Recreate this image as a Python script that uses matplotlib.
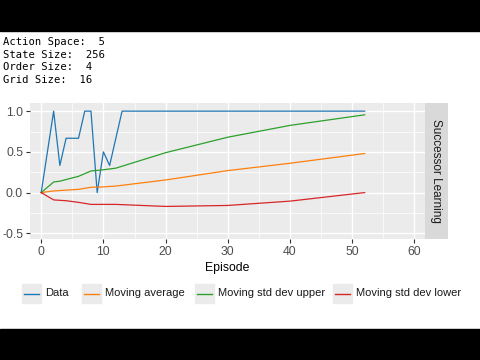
import matplotlib
matplotlib.use('Agg')
import matplotlib.pyplot as plt
from matplotlib.patches import Rectangle
from matplotlib.lines import Line2D

plt.rcParams['font.family'] = ['Liberation Sans', 'DejaVu Sans']

# header info
info_lines = ['Action Space:  5', 'State Size:  256', 'Order Size:  4', 'Grid Size:  16']

# series
data_x = [0, 1, 2, 3, 4, 5, 6, 7, 8, 9, 10, 11, 12, 13, 52]
data_y = [0, 0.5, 1.0, 0.333, 0.667, 0.667, 0.667, 1.0, 1.0, 0.0, 0.5, 0.333, 0.667, 1.0, 1.0]

avg_x = [0, 2, 6, 8, 10, 12, 20, 30, 40, 52]
avg_y = [0, 0.02, 0.04, 0.065, 0.07, 0.08, 0.155, 0.27, 0.36, 0.48]

up_x = [0, 2, 3, 6, 8, 10, 12, 20, 30, 40, 52]
up_y = [0, 0.13, 0.14, 0.2, 0.265, 0.28, 0.3, 0.49, 0.68, 0.825, 0.955]

low_x = [0, 2, 4, 6, 8, 12, 20, 30, 40, 52]
low_y = [0, -0.09, -0.1, -0.12, -0.145, -0.145, -0.17, -0.158, -0.105, 0.0]

labels = ['Data', 'Moving average', 'Moving std dev upper', 'Moving std dev lower']
colors = ['#1f77b4', '#ff7f0e', '#2ca02c', '#d62728']

fig = plt.figure(figsize=(4.8, 3.6), dpi=100)
fig.patch.set_facecolor('white')

# black bars top and bottom
fig.patches.append(Rectangle((0, 1 - 31/360), 1, 31/360, transform=fig.transFigure, color='black', zorder=0))
fig.patches.append(Rectangle((0, 0), 1, 31/360, transform=fig.transFigure, color='black', zorder=0))

for i, s in enumerate(info_lines):
    fig.text(3/480, 1 - (41.7 + i * 12.8)/360, s, family='DejaVu Sans Mono', fontsize=7.6,
             va='center', ha='left', color='black')

ax = fig.add_axes([30/480, 1 - 239/360, 395/480, 136/360])
ax.set_facecolor('#EBEBEB')
for sp in ax.spines.values():
    sp.set_visible(False)

series = [(data_x, data_y), (avg_x, avg_y), (up_x, up_y), (low_x, low_y)]
for (xs, ys), c in zip(series, colors):
    ax.plot(xs, ys, color=c, lw=0.9, zorder=3)

ax.set_xlim(-1.8, 61.7)
ax.set_ylim(-0.57, 1.10)
ax.set_xticks([0, 10, 20, 30, 40, 50, 60])
ax.set_yticks([-0.5, 0.0, 0.5, 1.0])
ax.set_yticklabels(['-0.5', '0.0', '0.5', '1.0'])
ax.set_xticks([5, 15, 25, 35, 45, 55], minor=True)
ax.set_yticks([-0.25, 0.25, 0.75], minor=True)
ax.grid(which='major', color='white', lw=1.0, zorder=1)
ax.grid(which='minor', color='white', lw=0.5, zorder=1)
ax.set_axisbelow(True)
ax.tick_params(which='major', length=3, width=0.8, color='#333333', labelcolor='#4D4D4D',
               labelsize=8.8, pad=2)
ax.tick_params(which='minor', length=0)
ax.set_xlabel('Episode', fontsize=8.8, color='black', labelpad=3)

# facet strip on the right
sax = fig.add_axes([425/480, 1 - 239/360, 23/480, 136/360])
sax.set_facecolor('#D9D9D9')
sax.set_xticks([])
sax.set_yticks([])
for sp in sax.spines.values():
    sp.set_visible(False)
sax.text(0.5, 0.5, 'Successor Learning', rotation=-90, ha='center', va='center',
         fontsize=8.5, color='#1A1A1A', transform=sax.transAxes)

# legend at bottom, ggplot-style key boxes
key_x = [22, 82, 195, 333]
for kx, lab, c in zip(key_x, labels, colors):
    x0 = kx / 480
    y0 = 1 - 303/360
    fig.patches.append(Rectangle((x0, y0), 19/480, 19/360, transform=fig.transFigure,
                                 color='#EBEBEB', zorder=1))
    fig.lines.append(Line2D([x0 + 2/480, x0 + 17/480], [y0 + 9.5/360] * 2,
                            transform=fig.transFigure, color=c, lw=1.0, zorder=2))
    fig.text(x0 + 23/480, y0 + 9.5/360, lab, fontsize=8.0, va='center', ha='left', color='#1A1A1A')

fig.savefig('out.png', dpi=100)
